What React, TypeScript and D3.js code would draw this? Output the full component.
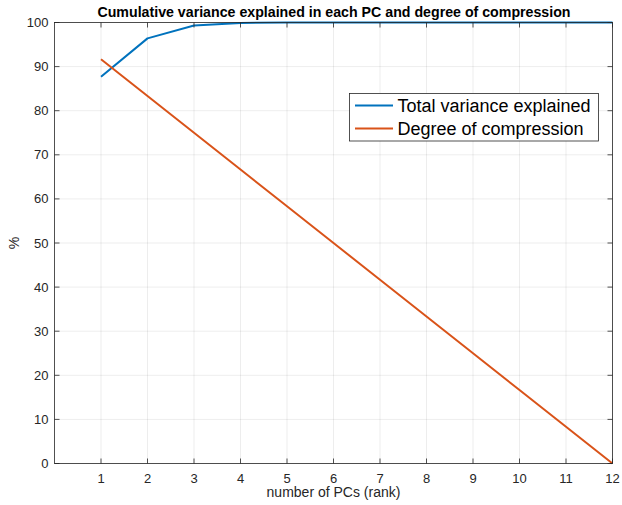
import React from "react";
import * as d3 from "d3";

// Number of principal components kept
const pcs: number[] = [1, 2, 3, 4, 5, 6, 7, 8, 9, 10, 11, 12];
// Cumulative variance explained (%)
const varianceExplained: number[] = [87.7, 96.4, 99.3, 99.9, 100, 100, 100, 100, 100, 100, 100, 100];
// Degree of compression (%)
const compression: number[] = [91.67, 83.33, 75, 66.67, 58.33, 50, 41.67, 33.33, 25, 16.67, 8.33, 0];

const xTicks: number[] = [1, 2, 3, 4, 5, 6, 7, 8, 9, 10, 11, 12];
const yTicks: number[] = [0, 10, 20, 30, 40, 50, 60, 70, 80, 90, 100];

const seriesNames: string[] = ["Total variance explained", "Degree of compression"];
const seriesColors: string[] = ["#0072BD", "#D95319"];

const W = 622;
const H = 505;
const left = 54.5;
const right = 612.5;
const top = 22.5;
const bottom = 463.5;
const axisColor = "#262626";
const font = "'Liberation Sans', Arial, Helvetica, sans-serif";

export default function App() {
  const x = d3.scaleLinear().domain([0, 12]).range([left, right]);
  const y = d3.scaleLinear().domain([0, 100]).range([bottom, top]);

  const line = d3
    .line<number>()
    .x((_, i) => x(pcs[i]))
    .y((d) => y(d));

  const series = [varianceExplained, compression];

  return (
    <svg
      width={W}
      height={H}
      style={{ position: "absolute", left: 0, top: 0, background: "#fff" }}
      fontFamily={font}
    >
      <rect x={0} y={0} width={W} height={H} fill="#fff" />
      {/* grid */}
      <g stroke="#000" strokeOpacity={0.12} strokeWidth={0.6}>
        {xTicks.map((t) => (
          <line key={"gx" + t} x1={x(t)} x2={x(t)} y1={top} y2={bottom} />
        ))}
        {yTicks.map((t) => (
          <line key={"gy" + t} x1={left} x2={right} y1={y(t)} y2={y(t)} />
        ))}
      </g>

      {/* data lines */}
      {series.map((s, i) => (
        <path
          key={"s" + i}
          d={line(s) || ""}
          fill="none"
          stroke={seriesColors[i]}
          strokeWidth={2}
          strokeLinejoin="round"
        />
      ))}

      {/* box and ticks */}
      <g stroke={axisColor} strokeWidth={0.8} fill="none">
        <rect x={left} y={top} width={right - left} height={bottom - top} />
        {xTicks.map((t) => (
          <g key={"tx" + t}>
            <line x1={x(t)} x2={x(t)} y1={bottom} y2={bottom - 5} />
            <line x1={x(t)} x2={x(t)} y1={top} y2={top + 5} />
          </g>
        ))}
        {yTicks.map((t) => (
          <g key={"ty" + t}>
            <line x1={left} x2={left + 5} y1={y(t)} y2={y(t)} />
            <line x1={right} x2={right - 5} y1={y(t)} y2={y(t)} />
          </g>
        ))}
      </g>

      {/* tick labels */}
      <g fill={axisColor} fontSize={13}>
        {xTicks.map((t) => (
          <text key={"lx" + t} x={x(t)} y={bottom + 19} textAnchor="middle">
            {t}
          </text>
        ))}
        {yTicks.map((t) => (
          <text key={"ly" + t} x={left - 6} y={y(t) + 4.5} textAnchor="end">
            {t}
          </text>
        ))}
      </g>

      {/* axis labels */}
      <text
        x={(left + right) / 2}
        y={497}
        textAnchor="middle"
        fontSize={14}
        fill={axisColor}
      >
        number of PCs (rank)
      </text>
      <text
        transform={`translate(19,${(top + bottom) / 2}) rotate(-90)`}
        textAnchor="middle"
        fontSize={14}
        fill={axisColor}
      >
        %
      </text>

      {/* title */}
      <text
        x={(left + right) / 2 + 0.5}
        y={17}
        textAnchor="middle"
        fontSize={14.2}
        fontWeight="bold"
        fill="#000"
      >
        Cumulative variance explained in each PC and degree of compression
      </text>

      {/* legend */}
      <g>
        <rect x={349.5} y={93.5} width={249} height={47.5} fill="#fff" stroke={axisColor} strokeWidth={0.8} />
        {seriesNames.map((n, i) => (
          <g key={"lg" + i}>
            <line
              x1={355}
              x2={393}
              y1={105.5 + i * 23}
              y2={105.5 + i * 23}
              stroke={seriesColors[i]}
              strokeWidth={2}
            />
            <text x={397.5} y={111.8 + i * 23} fontSize={18} fill="#000">
              {n}
            </text>
          </g>
        ))}
      </g>
    </svg>
  );
}
